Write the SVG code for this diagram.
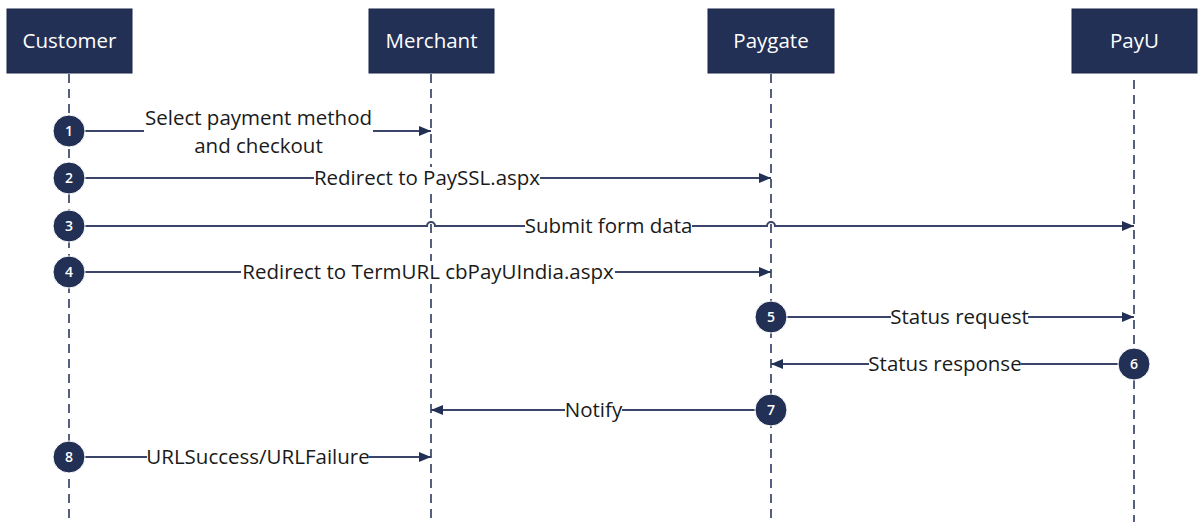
<svg xmlns="http://www.w3.org/2000/svg" width="1200" height="527" viewBox="0 0 1200 527">
<style>
.box{fill:#223055;stroke:#1a2648;stroke-width:1}
.hdr{font-family:"Open Sans","Noto Sans","Liberation Sans",sans-serif;font-size:20.5px;fill:#ffffff;text-anchor:middle}
.life{stroke:#55607e;stroke-width:2;stroke-dasharray:9,6;fill:none}
.msg{stroke:#3a4569;stroke-width:2;fill:none}
.lbl{font-family:"Open Sans","Noto Sans","Liberation Sans",sans-serif;font-size:20.5px;fill:#1a1a1a;text-anchor:middle}
.bg{fill:#ffffff}
.num{fill:#223055;stroke:#ffffff;stroke-width:1}
.numt{font-family:"Open Sans","Noto Sans","Liberation Sans",sans-serif;font-size:14px;font-weight:600;fill:#ffffff;text-anchor:middle}
</style>
<defs>
<marker id="ah" viewBox="0 0 12 10" refX="12" refY="5" markerWidth="12" markerHeight="10" markerUnits="userSpaceOnUse" orient="auto">
<path d="M0,0 L12,5 L0,10 Z" fill="#223055"/>
</marker>
</defs>
<rect width="1200" height="527" fill="#ffffff"/>
<g id="lifelines">
<line class="life" x1="69" y1="74" x2="69" y2="522"/>
<line class="life" x1="431" y1="74" x2="431" y2="522"/>
<line class="life" x1="771" y1="74" x2="771" y2="522"/>
<line class="life" x1="1134" y1="80" x2="1134" y2="522"/>
</g>
<g id="customer"><rect class="box" x="7" y="9" width="125" height="64"/><text class="hdr" x="69.5" y="48">Customer</text></g>
<g id="merchant"><rect class="box" x="369" y="9" width="125" height="64"/><text class="hdr" x="431.5" y="48">Merchant</text></g>
<g id="paygate"><rect class="box" x="708" y="9" width="126" height="64"/><text class="hdr" x="771" y="48">Paygate</text></g>
<g id="payu"><rect class="box" x="1072" y="9" width="125" height="64"/><text class="hdr" x="1134.5" y="48">PayU</text></g>
<g id="connectors">
<line class="msg" x1="85" y1="131" x2="431" y2="131" marker-end="url(#ah)"/>
<line class="msg" x1="85" y1="178" x2="771" y2="178" marker-end="url(#ah)"/>
<path class="msg" d="M85,226 H427 A4,4 0 0 1 435,226 H767 A4,4 0 0 1 775,226 H1134" marker-end="url(#ah)"/>
<line class="msg" x1="85" y1="272" x2="771" y2="272" marker-end="url(#ah)"/>
<line class="msg" x1="787" y1="317" x2="1134" y2="317" marker-end="url(#ah)"/>
<line class="msg" x1="1118" y1="364" x2="771" y2="364" marker-end="url(#ah)"/>
<line class="msg" x1="755" y1="410" x2="431" y2="410" marker-end="url(#ah)"/>
<line class="msg" x1="85" y1="457" x2="431" y2="457" marker-end="url(#ah)"/>
</g>
<g id="labels">
<rect class="bg" x="144" y="106" width="229" height="54"/>
<text class="lbl" x="258.5" y="125">Select payment method</text>
<text class="lbl" x="258.5" y="153">and checkout</text>
<rect class="bg" x="314" y="167" width="226" height="22"/>
<text class="lbl" x="427" y="185">Redirect to PaySSL.aspx</text>
<rect class="bg" x="525" y="215" width="167" height="22"/>
<text class="lbl" x="608.5" y="233">Submit form data</text>
<rect class="bg" x="241" y="261" width="374" height="22"/>
<text class="lbl" x="428" y="279">Redirect to TermURL cbPayUIndia.aspx</text>
<rect class="bg" x="891" y="306" width="137" height="22"/>
<text class="lbl" x="959.5" y="324">Status request</text>
<rect class="bg" x="869" y="353" width="152" height="22"/>
<text class="lbl" x="945" y="371">Status response</text>
<rect class="bg" x="565" y="399" width="57" height="22"/>
<text class="lbl" x="593.5" y="417">Notify</text>
<rect class="bg" x="147" y="446" width="222" height="22"/>
<text class="lbl" x="258" y="464">URLSuccess/URLFailure</text>
</g>
<g id="step1"><circle class="num" cx="69" cy="131" r="16"/><text class="numt" x="69" y="136">1</text></g>
<g id="step2"><circle class="num" cx="69" cy="178" r="16"/><text class="numt" x="69" y="183">2</text></g>
<g id="step3"><circle class="num" cx="69" cy="226" r="16"/><text class="numt" x="69" y="231">3</text></g>
<g id="step4"><circle class="num" cx="69" cy="272" r="16"/><text class="numt" x="69" y="277">4</text></g>
<g id="step5"><circle class="num" cx="771" cy="317" r="16"/><text class="numt" x="771" y="322">5</text></g>
<g id="step6"><circle class="num" cx="1134" cy="364" r="16"/><text class="numt" x="1134" y="369">6</text></g>
<g id="step7"><circle class="num" cx="771" cy="410" r="16"/><text class="numt" x="771" y="415">7</text></g>
<g id="step8"><circle class="num" cx="69" cy="457" r="16"/><text class="numt" x="69" y="462">8</text></g>
</svg>
